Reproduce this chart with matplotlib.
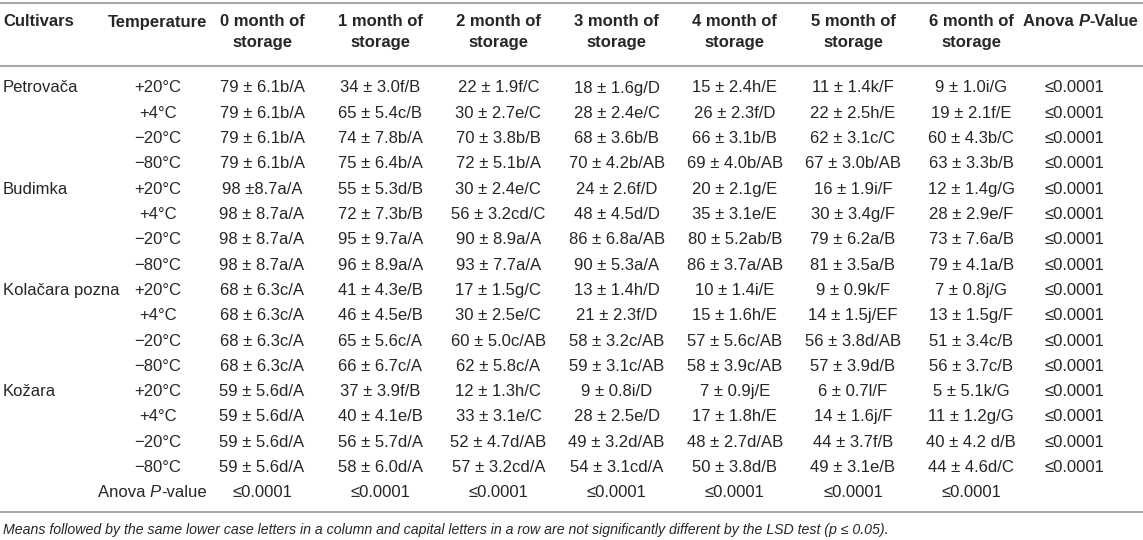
import matplotlib
matplotlib.use("Agg")
import matplotlib.pyplot as plt

plt.rcParams['font.family'] = ['Liberation Sans', 'DejaVu Sans']

# the data
cultivars = ["Petrovača", "Budimka", "Kolačara pozna", "Kožara"]
temps = ["+20°C", "+4°C", "−20°C", "−80°C"]
months = ["0", "1", "2", "3", "4", "5", "6"]

month0 = ["79 ± 6.1b/A", "79 ± 6.1b/A", "79 ± 6.1b/A", "79 ± 6.1b/A",
          "98 ±8.7a/A", "98 ± 8.7a/A", "98 ± 8.7a/A", "98 ± 8.7a/A",
          "68 ± 6.3c/A", "68 ± 6.3c/A", "68 ± 6.3c/A", "68 ± 6.3c/A",
          "59 ± 5.6d/A", "59 ± 5.6d/A", "59 ± 5.6d/A", "59 ± 5.6d/A"]
month1 = ["34 ± 3.0f/B", "65 ± 5.4c/B", "74 ± 7.8b/A", "75 ± 6.4b/A",
          "55 ± 5.3d/B", "72 ± 7.3b/B", "95 ± 9.7a/A", "96 ± 8.9a/A",
          "41 ± 4.3e/B", "46 ± 4.5e/B", "65 ± 5.6c/A", "66 ± 6.7c/A",
          "37 ± 3.9f/B", "40 ± 4.1e/B", "56 ± 5.7d/A", "58 ± 6.0d/A"]
month2 = ["22 ± 1.9f/C", "30 ± 2.7e/C", "70 ± 3.8b/B", "72 ± 5.1b/A",
          "30 ± 2.4e/C", "56 ± 3.2cd/C", "90 ± 8.9a/A", "93 ± 7.7a/A",
          "17 ± 1.5g/C", "30 ± 2.5e/C", "60 ± 5.0c/AB", "62 ± 5.8c/A",
          "12 ± 1.3h/C", "33 ± 3.1e/C", "52 ± 4.7d/AB", "57 ± 3.2cd/A"]
month3 = ["18 ± 1.6g/D", "28 ± 2.4e/C", "68 ± 3.6b/B", "70 ± 4.2b/AB",
          "24 ± 2.6f/D", "48 ± 4.5d/D", "86 ± 6.8a/AB", "90 ± 5.3a/A",
          "13 ± 1.4h/D", "21 ± 2.3f/D", "58 ± 3.2c/AB", "59 ± 3.1c/AB",
          "9 ± 0.8i/D", "28 ± 2.5e/D", "49 ± 3.2d/AB", "54 ± 3.1cd/A"]
month4 = ["15 ± 2.4h/E", "26 ± 2.3f/D", "66 ± 3.1b/B", "69 ± 4.0b/AB",
          "20 ± 2.1g/E", "35 ± 3.1e/E", "80 ± 5.2ab/B", "86 ± 3.7a/AB",
          "10 ± 1.4i/E", "15 ± 1.6h/E", "57 ± 5.6c/AB", "58 ± 3.9c/AB",
          "7 ± 0.9j/E", "17 ± 1.8h/E", "48 ± 2.7d/AB", "50 ± 3.8d/B"]
month5 = ["11 ± 1.4k/F", "22 ± 2.5h/E", "62 ± 3.1c/C", "67 ± 3.0b/AB",
          "16 ± 1.9i/F", "30 ± 3.4g/F", "79 ± 6.2a/B", "81 ± 3.5a/B",
          "9 ± 0.9k/F", "14 ± 1.5j/EF", "56 ± 3.8d/AB", "57 ± 3.9d/B",
          "6 ± 0.7l/F", "14 ± 1.6j/F", "44 ± 3.7f/B", "49 ± 3.1e/B"]
month6 = ["9 ± 1.0i/G", "19 ± 2.1f/E", "60 ± 4.3b/C", "63 ± 3.3b/B",
          "12 ± 1.4g/G", "28 ± 2.9e/F", "73 ± 7.6a/B", "79 ± 4.1a/B",
          "7 ± 0.8j/G", "13 ± 1.5g/F", "51 ± 3.4c/B", "56 ± 3.7c/B",
          "5 ± 5.1k/G", "11 ± 1.2g/G", "40 ± 4.2 d/B", "44 ± 4.6d/C"]
row_anova = ["≤0.0001"] * 16
col_anova = ["≤0.0001"] * 7

footnote = ("Means followed by the same lower case letters in a column and capital "
            "letters in a row are not significantly different by the LSD test (p ≤ 0.05).")

# figure in pixel coordinates
W, H = 1143, 540
fig = plt.figure(figsize=(W / 100, H / 100), dpi=100)
ax = fig.add_axes([0, 0, 1, 1])
ax.set_xlim(0, W)
ax.set_ylim(H, 0)
ax.axis('off')

txt_col = '#262626'
fs = 12
renderer = fig.canvas.get_renderer()


def runs(x, y, parts, ha='center', **kw):
    # draw a line of text made of pieces with different styles
    objs = []
    for s, style, weight in parts:
        objs.append(ax.text(0, y, s, fontsize=fs, color=txt_col, va='center',
                            ha='left', style=style, weight=weight, **kw))
    widths = [o.get_window_extent(renderer).width for o in objs]
    total = sum(widths)
    x0 = x - total / 2 if ha == 'center' else x
    for o, w in zip(objs, widths):
        o.set_x(x0)
        x0 += w


cols = [month0, month1, month2, month3, month4, month5, month6]
col_x = [262 + i * 118.2 for i in range(7)]
temp_x = 158
anova_x = 1074
anova_head_x = 1081

# lines
for yl in (3, 66, 512):
    ax.plot([0, W], [yl, yl], color='#a8a8a8', lw=1.5)

# header
y1, y2 = 22, 43
ax.text(3, y1, "Cultivars", fontsize=fs, weight='bold', color=txt_col, va='center')
ax.text(temp_x, y1, "Temperature", fontsize=fs, weight='bold', color=txt_col,
        va='center', ha='center')
for m, x in zip(months, col_x):
    ax.text(x, y1, m + " month of", fontsize=fs, weight='bold', color=txt_col,
            va='center', ha='center')
    ax.text(x, y2, "storage", fontsize=fs, weight='bold', color=txt_col,
            va='center', ha='center')
runs(anova_head_x, y1, [("Anova ", 'normal', 'bold'), ("P", 'italic', 'bold'),
                        ("-Value", 'normal', 'bold')])

# body
row0 = 88
dy = 25.3
for i in range(16):
    y = row0 + i * dy
    if i % 4 == 0:
        ax.text(3, y, cultivars[i // 4], fontsize=fs, color=txt_col, va='center')
    ax.text(temp_x, y, temps[i % 4], fontsize=fs, color=txt_col, va='center', ha='center')
    for col, x in zip(cols, col_x):
        ax.text(x, y, col[i], fontsize=fs, color=txt_col, va='center', ha='center')
    ax.text(anova_x, y, row_anova[i], fontsize=fs, color=txt_col, va='center', ha='center')

y = row0 + 16 * dy
runs(152, y, [("Anova ", 'normal', 'normal'), ("P", 'italic', 'normal'),
              ("-value", 'normal', 'normal')])
for v, x in zip(col_anova, col_x):
    ax.text(x, y, v, fontsize=fs, color=txt_col, va='center', ha='center')

ax.text(3, 530, footnote, fontsize=10.2, style='italic', color=txt_col, va='center')

fig.savefig("out.png", dpi=100)
